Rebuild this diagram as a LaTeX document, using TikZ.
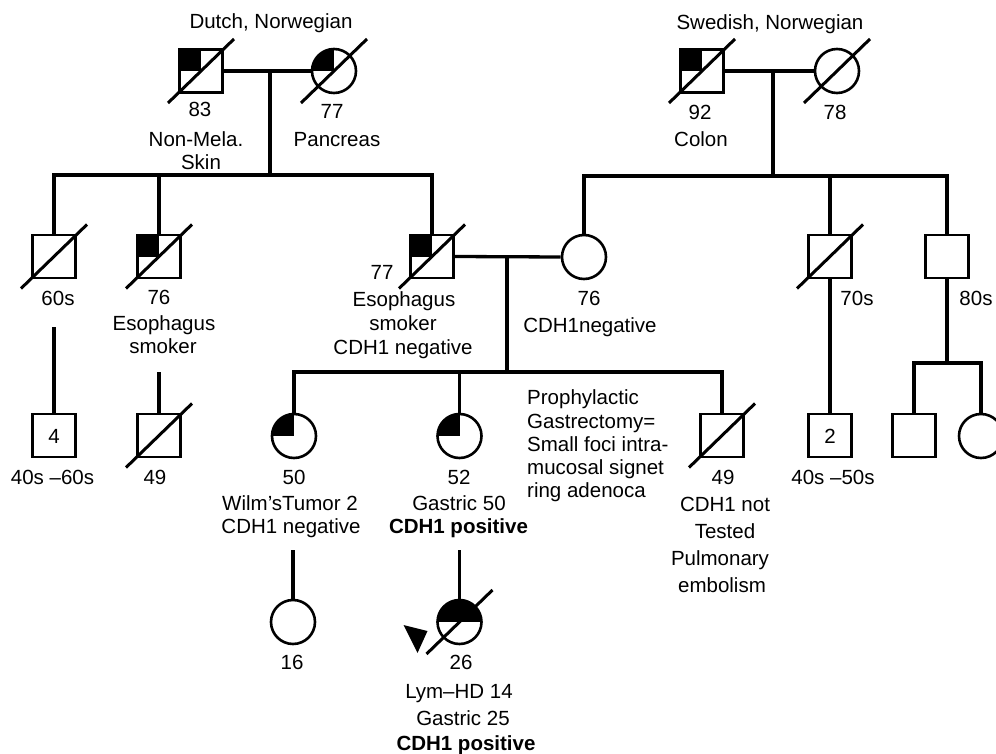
\documentclass[tikz,border=0pt]{standalone}
\usepackage{fontspec}
\setmainfont{Liberation Sans}
\newcommand\deadmark[1]{\draw[slash] ([shift={(-33,32)}]#1.center) -- ([shift={(33,-32)}]#1.center);}
\begin{document}
\begin{tikzpicture}[x=1pt,y=-1pt,
  male/.style={draw, rectangle, minimum size=43pt, inner sep=0pt, line width=2.6pt},
  female/.style={draw, circle, minimum size=44pt, inner sep=0pt, line width=2.6pt},
  qfill/.style={path picture={\fill[black] (path picture bounding box.north west) rectangle (path picture bounding box.center);}},
  hfill/.style={path picture={\fill[black] (path picture bounding box.north west) rectangle (path picture bounding box.east);}},
  conn/.style={line width=3.3pt},
  slash/.style={line width=3pt},
  lab/.style={font=\fontsize{20.5}{25}\selectfont, anchor=base, inner sep=0pt},
  labw/.style={lab, anchor=base west},
  ]
\useasboundingbox (0,0) rectangle (996,754);

% Generation I
\node[male, qfill] (m1) at (201,71) {};
\node[female, qfill] (f1) at (334,71) {};
\node[male, qfill] (m2) at (702,71) {};
\node[female] (f2) at (837,71) {};
\deadmark{m1}\deadmark{f1}\deadmark{m2}\deadmark{f2}

% Generation II
\node[male] (m3) at (54,256.5) {};
\node[male, qfill] (m4) at (159,256.5) {};
\node[male, qfill] (m5) at (432,256.5) {};
\node[female] (f3) at (584,257) {};
\node[male] (m6) at (830,256.5) {};
\node[male] (m7) at (947,256.5) {};
\deadmark{m3}\deadmark{m4}\deadmark{m5}\deadmark{m6}

% Generation III
\node[male] (m9) at (54,435.5) {};
\node[male] (m10) at (159,435.5) {};
\node[female, qfill] (f4) at (294,436) {};
\node[female, qfill] (f5) at (459.5,436) {};
\node[male] (m8) at (722,435.5) {};
\node[male] (m11) at (830,435.5) {};
\node[male] (m12) at (914,435.5) {};
\node[female] (f6) at (981,436) {};
\deadmark{m10}\deadmark{m8}

% Generation IV
\node[female] (f7) at (293,622) {};
\node[female, hfill] (f8) at (459.5,622) {};
\deadmark{f8}
\fill ([shift={(-56,3)}]f8.center) -- ([shift={(-32,9)}]f8.center) -- ([shift={(-42,31)}]f8.center) -- cycle;

% Connectors
\coordinate (j1) at (270,71);
\coordinate (s1) at (270,175);
\draw[conn] (m1.east) -- (f1.west);
\draw[conn] (j1) -- (s1);
\draw[conn] (m3.north) |- (m5.north |- s1) -- (m5.north);
\draw[conn] (m4.north) -- (m4.north |- s1);

\coordinate (j2) at (773,71);
\coordinate (s2) at (773,176);
\draw[conn] (m2.east) -- (f2.west);
\draw[conn] (j2) -- (s2);
\draw[conn] (f3.north) |- (m7.north |- s2) -- (m7.north);
\draw[conn] (m6.north) -- (m6.north |- s2);

\coordinate (j3) at (507,257);
\coordinate (s3) at (507,372);
\draw[conn] (m5.east) -- (f3.west);
\draw[conn] (j3) -- (s3);
\draw[conn] (f4.north) |- (m8.north |- s3) -- (m8.north);
\draw[conn] (f5.north) -- (f5.north |- s3);

\coordinate (d3) at (54,327);
\draw[conn] (d3) -- (m9.north);
\coordinate (d4) at (159,372);
\draw[conn] (d4) -- (m10.north);
\draw[conn] (m6.south) -- (m11.north);
\coordinate (s4) at (947,363);
\draw[conn] (m7.south) -- (s4);
\draw[conn] (m12.north) |- (s4) -| (f6.north);
\coordinate (d5) at (293,550);
\draw[conn] (d5) -- (f7.north);
\coordinate (d6) at (459.5,550);
\draw[conn] (d6) -- (f8.north);

% Labels generation I
\node[lab] (t1) at (271,29) {Dutch, Norwegian};
\node[lab] (t2) at (200,117) {83};
\node[lab] (t3) at (196,147) {Non-Mela.};
\node[lab] (t4) at (201,170) {Skin};
\node[lab] (t5) at (332,119) {77};
\node[lab] (t6) at (337,147) {Pancreas};
\node[lab] (t7) at (770,30) {Swedish, Norwegian};
\node[lab] (t8) at (700,120) {92};
\node[lab] (t9) at (701,147) {Colon};
\node[lab] (t10) at (835,120) {78};

% Labels generation II
\node[lab] (t11) at (58,305) {60s};
\node[lab] (t12) at (159,304) {76};
\node[lab] (t13) at (164,330) {Esophagus};
\node[lab] (t14) at (163,353) {smoker};
\node[lab] (t15) at (382,279) {77};
\node[lab] (t16) at (404,306) {Esophagus};
\node[lab] (t17) at (403,330) {smoker};
\node[lab] (t18) at (403,354) {CDH1 negative};
\node[lab] (t19) at (589,305) {76};
\node[lab] (t20) at (590,332) {CDH1negative};
\node[lab] (t21) at (857,305) {70s};
\node[lab] (t22) at (976,305) {80s};

% Labels generation III
\node[lab] (t23) at (m9.center) [yshift=-7.5pt] {4};
\node[lab] (t24) at (52.5,484) {40s –60s};
\node[lab] (t25) at (155,484) {49};
\node[lab] (t26) at (294,484) {50};
\node[lab] (t27) at (290,510) {Wilm’sTumor 2};
\node[lab] (t28) at (291,533) {CDH1 negative};
\node[lab] (t29) at (459,484) {52};
\node[lab] (t30) at (459,510) {Gastric 50};
\node[lab, font=\fontsize{20.5}{25}\selectfont\bfseries] (t31) at (458.5,533) {CDH1 positive};
\node[labw] (t32) at (527,404) {Prophylactic};
\node[labw] (t33) at (527,428) {Gastrectomy=};
\node[labw] (t34) at (527,451) {Small foci intra-};
\node[labw] (t35) at (527,474) {mucosal signet};
\node[labw] (t36) at (527,497) {ring adenoca};
\node[lab] (t37) at (723,484) {49};
\node[lab] (t38) at (725,511) {CDH1 not};
\node[lab] (t39) at (725,538) {Tested};
\node[lab] (t40) at (720,565) {Pulmonary};
\node[lab] (t41) at (722,592) {embolism};
\node[lab] (t42) at (m11.center) [yshift=-7.5pt] {2};
\node[lab] (t43) at (833,484) {40s –50s};

% Labels generation IV
\node[lab] (t44) at (292,669) {16};
\node[lab] (t45) at (461,669) {26};
\node[lab] (t46) at (459,698) {Lym–HD 14};
\node[lab] (t47) at (463,725) {Gastric 25};
\node[lab, font=\fontsize{20.5}{25}\selectfont\bfseries] (t48) at (466,750) {CDH1 positive};
\end{tikzpicture}
\end{document}
